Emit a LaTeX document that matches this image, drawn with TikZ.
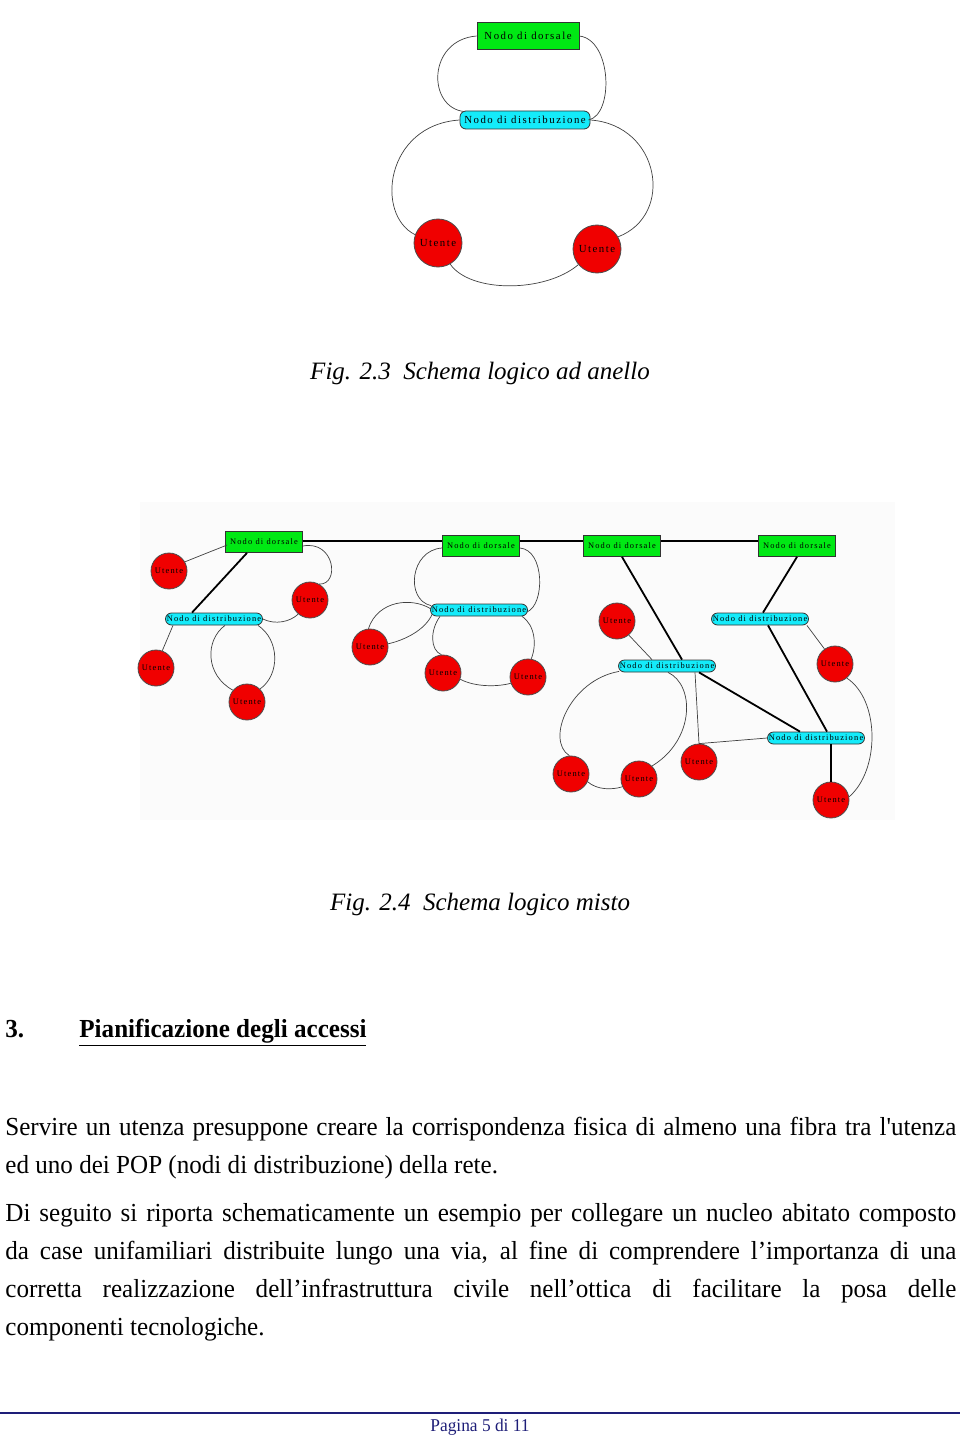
\documentclass[tikz,border=0pt]{standalone}
\usepackage{fontspec}
\setmainfont{Liberation Serif}
\newfontfamily\bodyfont{Liberation Serif}[FakeStretch=0.965]
\newfontfamily\labelfont{Liberation Serif}[LetterSpace=14]
\usetikzlibrary{calc}
\definecolor{dorsgreen}{RGB}{0,232,20}
\definecolor{distcyan}{RGB}{20,235,250}
\definecolor{utred}{RGB}{240,0,0}
\definecolor{footblue}{RGB}{30,30,120}

\tikzset{
  dors/.style={draw=black!80,fill=dorsgreen,inner sep=0pt,font=\labelfont\fontsize{4.2}{5}\selectfont},
  dist/.style={draw=black!80,fill=distcyan,rounded corners=3pt,inner sep=0pt,font=\labelfont\fontsize{4.2}{5}\selectfont},
  utente/.style={circle,draw=black!70,fill=utred,inner sep=0pt,font=\labelfont\fontsize{4.2}{5}\selectfont},
  fibra/.style={black!75,line width=0.35pt},
  tratta/.style={black,line width=0.9pt},
  testo/.style={anchor=north west,inner sep=0pt,text width=475.5pt,align=justify,
    font=\bodyfont\fontsize{13}{19}\selectfont},
}

\begin{document}
\begin{tikzpicture}[x=0.5pt,y=-0.5pt]
\useasboundingbox (0,0) rectangle (960,1439);
\fill[black!1.5] (140,502) rectangle (895,820);

% Fig. 2.3
\node[dors,minimum width=51pt,minimum height=13.5pt,font=\labelfont\fontsize{5.4}{6}\selectfont] (a0) at (528,36) {Nodo di dorsale};
\node[dist,minimum width=65pt,minimum height=9pt,font=\labelfont\fontsize{5.4}{6}\selectfont] (b0) at (525,120) {Nodo di distribuzione};
\node[utente,minimum size=24pt,font=\labelfont\fontsize{5.4}{6}\selectfont] (u0) at (438,243) {Utente};
\node[utente,minimum size=24pt,font=\labelfont\fontsize{5.4}{6}\selectfont] (v0) at (597,249) {Utente};
\draw[fibra] (a0.west) .. controls (427,40) and (427,108) .. ($(b0.north west)+(5,1)$);
\draw[fibra] (a0.east) .. controls (612,40) and (614,115) .. ($(b0.east)+(-2,0)$);
\draw[fibra] (b0.west) .. controls (385,125) and (375,215) .. (u0.160);
\draw[fibra] (b0.east) .. controls (660,125) and (675,215) .. (v0.30);
\draw[fibra] (u0.-60) .. controls (470,293) and (545,293) .. (v0.-140);
\node (c23) at (480,373) {\fontsize{12.5}{14}\selectfont\itshape Fig. 2.3\enspace Schema logico ad anello};

% Fig. 2.4
\node[dors,minimum width=38.5pt,minimum height=10.5pt] (d1) at (264,542) {Nodo di dorsale};
\node[dors,minimum width=38.5pt,minimum height=10.5pt] (d2) at (481,546) {Nodo di dorsale};
\node[dors,minimum width=38.5pt,minimum height=10.5pt] (d3) at (622,546) {Nodo di dorsale};
\node[dors,minimum width=38.5pt,minimum height=10.5pt] (d4) at (797,546) {Nodo di dorsale};
\node[dist,minimum width=48.5pt,minimum height=6pt] (p1) at (214,619) {Nodo di distribuzione};
\node[dist,minimum width=48.5pt,minimum height=6pt] (p2) at (479,610) {Nodo di distribuzione};
\node[dist,minimum width=48.5pt,minimum height=6pt] (p3) at (760,619) {Nodo di distribuzione};
\node[dist,minimum width=48.5pt,minimum height=6pt] (p4) at (667,666) {Nodo di distribuzione};
\node[dist,minimum width=48.5pt,minimum height=6pt] (p5) at (816,738) {Nodo di distribuzione};
\node[utente,minimum size=18pt] (u1) at (169,571) {Utente};
\node[utente,minimum size=18pt] (u2) at (310,600) {Utente};
\node[utente,minimum size=18pt] (u3) at (156,668) {Utente};
\node[utente,minimum size=18pt] (u4) at (247,702) {Utente};
\node[utente,minimum size=18pt] (u5) at (370,647) {Utente};
\node[utente,minimum size=18pt] (u6) at (443,673) {Utente};
\node[utente,minimum size=18pt] (u7) at (528,677) {Utente};
\node[utente,minimum size=18pt] (u8) at (617,621) {Utente};
\node[utente,minimum size=18pt] (u9) at (835,664) {Utente};
\node[utente,minimum size=18pt] (u10) at (571,774) {Utente};
\node[utente,minimum size=18pt] (u11) at (639,779) {Utente};
\node[utente,minimum size=18pt] (u12) at (699,762) {Utente};
\node[utente,minimum size=18pt] (u13) at (831,800) {Utente};

\draw[tratta] (d1.east |- 0,541) -- (d2.west |- 0,541);
\draw[tratta] (d2.east |- 0,541) -- (d3.west |- 0,541);
\draw[tratta] (d3.east |- 0,541) -- (d4.west |- 0,541);
\draw[fibra] ($(d1.west)+(2,3)$) -- (u1.30);
\draw[tratta] ($(d1.south)+(-17,0)$) -- ($(p1.north)+(-22,0)$);
\draw[fibra] ($(d1.east)+(0,4)$) .. controls (335,540) and (340,585) .. (u2.60);
\draw[fibra] (p1.east) .. controls (275,625) and (290,622) .. (u2.-130);
\draw[fibra] ($(p1.south)+(-41,0)$) -- (u3.70);
\draw[fibra] ($(p1.south)+(11,0)$) .. controls (205,640) and (205,675) .. (u4.140);
\draw[fibra] ($(p1.south)+(44,0)$) .. controls (280,640) and (280,675) .. (u4.45);
\draw[fibra] ($(d2.west)+(0,2)$) .. controls (410,550) and (405,600) .. ($(p2.north west)+(1,2)$);
\draw[fibra] ($(d2.east)+(0,2)$) .. controls (545,550) and (545,605) .. ($(p2.east)+(-1,2)$);
\draw[fibra] ($(p2.west)+(1,-1)$) .. controls (412,597) and (378,600) .. (u5.95);
\draw[fibra] (u5.10) .. controls (405,640) and (425,630) .. ($(p2.south west)+(2,-2)$);
\draw[fibra] ($(p2.south)+(-39,0)$) .. controls (430,630) and (430,650) .. (u6.95);
\draw[fibra] (u6.-20) .. controls (475,687) and (497,687) .. (u7.-160);
\draw[fibra] (u7.80) .. controls (537,645) and (535,625) .. ($(p2.south)+(43,0)$);
\draw[tratta] (d3.south) -- ($(p4.north)+(15,0)$);
\draw[tratta] (d4.south) -- ($(p3.north)+(3,0)$);
\draw[tratta] ($(p3.south)+(8,0)$) -- ($(p5.north)+(11,0)$);
\draw[fibra] ($(p3.south east)+(-2,0)$) -- (u9.125);
\draw[fibra] (u9.-50) .. controls (880,700) and (880,770) .. (u13.10);
\draw[tratta] (u13.north) -- (u13.north |- p5.south);
\draw[fibra] ($(p4.north)+(-15,0)$) -- (u8.-50);
\draw[tratta] ($(p4.south)+(32,0)$) -- ($(p5.north)+(-16,0)$);
\draw[fibra] ($(p4.south)+(28,0)$) -- (u12.north);
\draw[fibra] (u12.north) -- (p5.west);
\draw[fibra] ($(p4.south west)+(1,-1)$) .. controls (570,680) and (545,740) .. (u10.95);
\draw[fibra] (u10.-25) .. controls (597,790) and (612,790) .. (u11.-155);
\draw[fibra] (u11.45) .. controls (695,740) and (695,685) .. ($(p4.south)+(1,0)$);
\node (c24) at (480,904) {\fontsize{12.5}{14}\selectfont\itshape Fig. 2.4\enspace Schema logico misto};

% testo
\node[anchor=base west,inner sep=0pt] (n3) at (5,1037) {\bodyfont\fontsize{13}{19}\selectfont\bfseries 3.};
\node[anchor=base west,inner sep=0pt] (tit) at (79,1037) {\bodyfont\fontsize{13}{19}\selectfont\bfseries\underline{Pianificazione degli accessi}};
\node[testo] (par1) at (5,1117)
  {Servire un utenza presuppone creare la corrispondenza fisica di almeno una fibra tra l'utenza\linebreak ed uno dei POP (nodi di distribuzione) della rete.\par};
\node[testo] (par2) at (5,1203)
  {Di seguito si riporta schematicamente un esempio per collegare un nucleo abitato composto\linebreak da case unifamiliari distribuite lungo una via, al fine di comprendere l’importanza di una\linebreak corretta realizzazione dell’infrastruttura civile nell’ottica di facilitare la posa delle\linebreak componenti tecnologiche.\par};

% pie di pagina
\draw[footblue,line width=0.8pt] (0,1413) -- (960,1413);
\node[footblue] (pag) at (480,1427) {\bodyfont\fontsize{9}{10}\selectfont Pagina 5 di 11};
\end{tikzpicture}
\end{document}
